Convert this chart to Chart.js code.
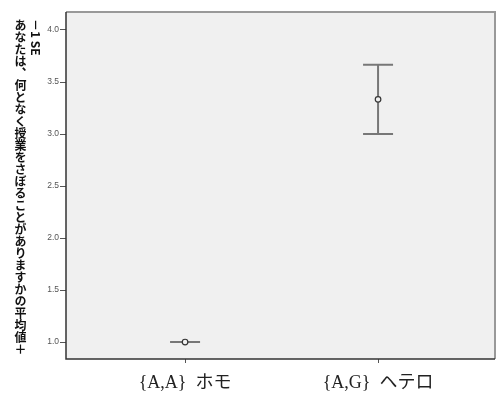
<!DOCTYPE html>
<html>
<head>
<meta charset="utf-8">
<script src="https://cdn.jsdelivr.net/npm/chart.js@4"></script>
<style>
  html, body { margin: 0; padding: 0; background: #fff; }
  #wrap { position: relative; width: 497px; height: 407px; }
  #ytitle {
    position: absolute; left: 12px; top: 19px;
    writing-mode: vertical-lr;
    font: bold 12px "Noto Sans CJK JP", sans-serif;
    line-height: 16px; color: #111; white-space: nowrap;
  }
</style>
</head>
<body>
<div id="wrap">
  <canvas id="chart" width="497" height="407"></canvas>
  <div id="ytitle">あなたは、何となく授業をさぼることがありますかの平均値＋<br>－1 SE</div>
</div>
<script>
// groups and their means +/- 1 SE
const categories = ['{A,A}  ホモ', '{A,G}  ヘテロ'];
const means = [1.0, 3.333];
const lower = [1.0, 3.0];
const upper = [1.0, 3.667];
const yTicks = [1.0, 1.5, 2.0, 2.5, 3.0, 3.5, 4.0];

const points = means.map((m, i) => ({ x: i, y: m }));

// plot background, frame and error bars
const frame = {
    id: 'frame',
    beforeDraw(chart) {
        const { ctx, chartArea: a } = chart;
        ctx.save();
        ctx.fillStyle = '#f0f0f0';
        ctx.fillRect(a.left, a.top, a.right - a.left, a.bottom - a.top);
        ctx.restore();
    },
    afterDatasetsDraw(chart) {
        const { ctx, chartArea: a, scales } = chart;
        ctx.save();
        ctx.strokeStyle = '#777';
        ctx.lineWidth = 2;
        means.forEach((m, i) => {
            const x = scales.x.getPixelForValue(i);
            const yl = scales.y.getPixelForValue(lower[i]);
            const yu = scales.y.getPixelForValue(upper[i]);
            ctx.beginPath();
            ctx.moveTo(x, yl); ctx.lineTo(x, yu);
            ctx.moveTo(x - 15, yl); ctx.lineTo(x + 15, yl);
            ctx.moveTo(x - 15, yu); ctx.lineTo(x + 15, yu);
            ctx.stroke();
        });
        // markers over the bars
        ctx.strokeStyle = '#333';
        ctx.fillStyle = '#f0f0f0';
        ctx.lineWidth = 1.2;
        means.forEach((m, i) => {
            ctx.beginPath();
            ctx.arc(scales.x.getPixelForValue(i), scales.y.getPixelForValue(m), 2.8, 0, Math.PI * 2);
            ctx.fill();
            ctx.stroke();
        });
        // frame
        ctx.lineWidth = 2;
        ctx.strokeStyle = '#999';
        ctx.beginPath();
        ctx.moveTo(a.left, a.top); ctx.lineTo(a.right, a.top); ctx.lineTo(a.right, a.bottom);
        ctx.stroke();
        ctx.strokeStyle = '#333';
        ctx.lineWidth = 1.5;
        ctx.beginPath();
        ctx.moveTo(a.left, a.top); ctx.lineTo(a.left, a.bottom); ctx.lineTo(a.right, a.bottom);
        ctx.stroke();
        ctx.restore();
    }
};

new Chart(document.getElementById('chart').getContext('2d'), {
    type: 'scatter',
    data: {
        datasets: [{
            data: points,
            pointRadius: 0,
            pointHoverRadius: 0
        }]
    },
    options: {
        responsive: false,
        animation: false,
        layout: { padding: { left: 0, right: 2, top: 12, bottom: 0 } },
        plugins: { legend: { display: false }, tooltip: { enabled: false } },
        scales: {
            x: {
                type: 'linear',
                min: -0.617,
                max: 1.606,
                afterBuildTicks: s => { s.ticks = categories.map((c, i) => ({ value: i })); },
                afterFit: s => { s.height = 48; },
                ticks: {
                    callback: (v) => categories[v],
                    font: { family: '"Liberation Serif", "Noto Sans CJK JP", serif', size: 18 },
                    color: '#222',
                    padding: 9,
                    maxRotation: 0,
                    autoSkip: false
                },
                grid: { drawOnChartArea: false, tickLength: 4, color: '#555' },
                border: { display: false }
            },
            y: {
                min: 0.837,
                max: 4.173,
                afterBuildTicks: s => { s.ticks = yTicks.map(v => ({ value: v })); },
                afterFit: s => { s.width = 66; },
                ticks: {
                    callback: v => v.toFixed(1),
                    font: { family: '"Liberation Sans", Arial, sans-serif', size: 8.5 },
                    color: '#555',
                    padding: 1
                },
                grid: { drawOnChartArea: false, tickLength: 6, color: '#555' },
                border: { display: false }
            }
        }
    },
    plugins: [frame]
});
</script>
</body>
</html>
